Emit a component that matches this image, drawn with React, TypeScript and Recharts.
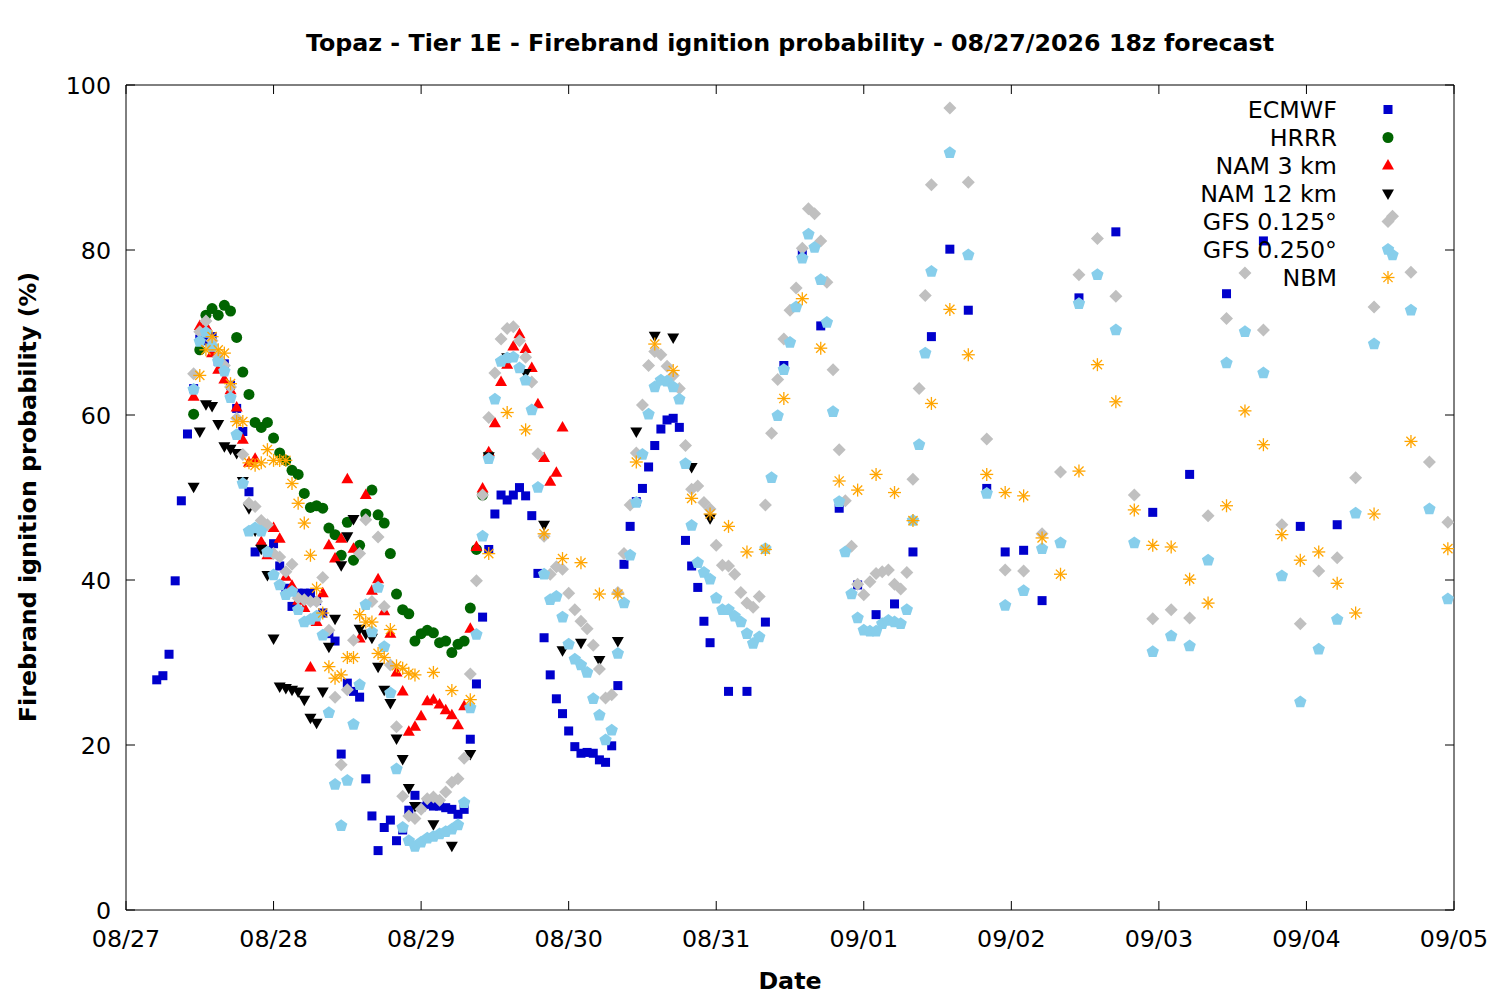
import React from "react";
import { ScatterChart, Scatter, XAxis, YAxis } from "recharts";

if (typeof document !== "undefined") document.body.style.margin = "0";

const FONT = "'DejaVu Sans', Verdana, sans-serif";
const FS = 23.75;

const titleText = "Topaz - Tier 1E - Firebrand ignition probability - 08/27/2026 18z forecast";
const xTitle = "Date";
const yTitle = "Firebrand ignition probability (%)";

// x is hours since 08/27 00z
const dayTicks = [0, 24, 48, 72, 96, 120, 144, 168, 192, 216];
const dayLabels = ["08/27", "08/28", "08/29", "08/30", "08/31", "09/01", "09/02", "09/03", "09/04", "09/05"];
const probTicks = [0, 20, 40, 60, 80, 100];

const ecmwfHours = [
  5, 6, 7, 8, 9, 10, 11, 12, 13, 14, 15, 16, 17, 18, 19, 20, 21, 22, 23, 24, 25, 26, 27, 28, 29, 30,
  31, 32, 33, 34, 35, 36, 37, 38, 39, 40, 41, 42, 43, 44, 45, 46, 47, 48, 49, 50, 51, 52, 53, 54, 55,
  56, 57, 58, 59, 60, 61, 62, 63, 64, 65, 66, 67, 68, 69, 70, 71, 72, 73, 74, 75, 76, 77, 78, 79, 80,
  81, 82, 83, 84, 85, 86, 87, 88, 89, 90, 91, 92, 93, 94, 95,
  98, 101, 104, 107, 110, 113, 116, 119, 122, 125, 128, 131, 134, 137, 140, 143, 146, 149,
  155, 161, 167, 173, 179, 185, 191, 197,
];
const ecmwfValues = [
  27.9, 28.4, 31.0, 39.9, 49.6, 57.7, 63.2, 69.2, 69.0, 69.5, 66.5, 66.2, 63.6, 60.8, 58.0, 50.7, 43.4, 44.0, 43.5, 44.4, 41.7, 39.0, 36.8, 38.4, 38.4, 38.4,
  37.5, 36.0, 33.5, 32.6, 18.9, 27.5, 26.5, 25.8, 15.9, 11.4, 7.2, 10.0, 10.9, 8.4, 9.7, 12.1, 13.9, 12.5, 12.8, 12.6, 12.6, 12.4, 12.2, 11.6, 12.2,
  20.7, 27.4, 35.5, 43.7, 48.0, 50.3, 49.7, 50.3, 51.2, 50.2, 47.8, 40.8, 33.0, 28.5, 25.6, 23.8, 21.7, 19.8, 19.0, 19.1, 19.0, 18.2, 17.9, 19.9, 27.2,
  41.9, 46.5, 49.5, 51.1, 53.7, 56.3, 58.3, 59.4, 59.6, 58.5, 44.8, 41.7, 39.1, 35.0, 32.4,
  26.5, 26.5, 34.9, 66.0, 79.6, 70.8, 48.7, 39.4, 35.8, 37.1, 43.4, 69.5, 80.1, 72.7, 51.1, 43.4, 43.6, 37.5,
  74.2, 82.2, 48.2, 52.8, 74.7, 81.1, 46.5, 46.7,
];

const hrrrHours = [
  11, 12, 13, 14, 15, 16, 17, 18, 19, 20, 21, 22, 23, 24, 25, 26, 27, 28, 29, 30, 31, 32, 33, 34, 35,
  36, 37, 38, 39, 40, 41, 42, 43, 44, 45, 46, 47, 48, 49, 50, 51, 52, 53, 54, 55, 56, 57, 58, 59,
];
const hrrrValues = [
  60.1, 67.9, 72.1, 72.9, 72.1, 73.3, 72.6, 69.4, 65.2, 62.5, 59.1, 58.5, 59.1, 57.2, 55.4, 54.5, 53.3, 52.8, 50.5, 48.8, 49.0, 48.7, 46.3, 45.5, 43.0,
  47.0, 42.4, 44.2, 48.0, 50.9, 47.9, 46.9, 43.2, 38.3, 36.4, 35.9, 32.6, 33.5, 33.9, 33.6, 32.4, 32.6, 31.2, 32.2, 32.6, 36.6, 43.7, 50.3, 55.1,
];

const nam3Hours = [
  11, 12, 13, 14, 15, 16, 17, 18, 19, 20, 21, 22, 23, 24, 25, 26, 27, 28, 29, 30, 31, 32, 33, 34, 35, 36, 37, 38, 39, 40,
  41, 42, 43, 44, 45, 46, 47, 48, 49, 50, 51, 52, 53, 54, 55, 56, 57, 58, 59, 60, 61, 62, 63, 64, 65, 66, 67, 68, 69, 70, 71,
];
const nam3Values = [
  62.2, 70.8, 70.8, 67.5, 65.5, 64.3, 63.0, 60.9, 57.0, 54.2, 54.7, 44.6, 43.0, 46.3, 45.0, 40.4, 39.3, 37.5, 36.6, 29.4, 34.9, 38.4, 44.2, 42.6, 45.0, 52.2, 43.8, 32.9, 50.3, 38.7,
  40.1, 36.2, 33.5, 28.8, 26.5, 21.6, 22.2, 23.5, 25.3, 25.5, 24.9, 24.2, 23.6, 22.4, 24.7, 34.1, 44.0, 51.1, 55.5, 59.0, 64.0, 66.1, 68.3, 69.8, 68.0, 65.7, 61.3, 54.8, 51.9, 53.0, 58.5,
];

const nam12Hours = [
  11, 12, 13, 14, 15, 16, 17, 18, 19, 20, 21, 22, 23, 24, 25, 26, 27, 28, 29, 30, 31, 32, 33, 34, 35, 36, 37, 38, 39, 40,
  41, 42, 43, 44, 45, 46, 47, 50, 53, 56, 59, 62, 65, 68, 71, 74, 77, 80, 83, 86, 89, 92, 95,
];
const nam12Values = [
  51.3, 58.0, 61.3, 61.1, 58.9, 56.2, 55.9, 55.4, 52.0, 48.7, 46.0, 43.8, 40.6, 32.9, 27.1, 26.9, 26.7, 26.5, 25.5, 23.3, 22.7, 26.5, 31.9, 35.3, 41.8, 45.3, 47.4, 34.1, 33.5, 33.0,
  29.5, 26.7, 25.1, 20.8, 18.3, 14.8, 12.6, 10.4, 7.8, 18.9, 55.0, 67.0, 65.1, 46.7, 31.5, 32.4, 30.3, 32.6, 58.0, 69.6, 69.4, 53.7, 47.5,
];

const gfsHours = [
  11, 12, 13, 14, 15, 16, 17, 18, 19, 20, 21, 22, 23, 24, 25, 26, 27, 28, 29, 30, 31, 32, 33, 34, 35, 36, 37, 38, 39, 40,
  41, 42, 43, 44, 45, 46, 47, 48, 49, 50, 51, 52, 53, 54, 55, 56, 57, 58, 59, 60, 61, 62, 63, 64, 65, 66, 67, 68, 69, 70,
  71, 72, 73, 74, 75, 76, 77, 78, 79, 80, 81, 82, 83, 84, 85, 86, 87, 88, 89, 90, 91, 92, 93, 94, 95, 96, 97, 98, 99, 100,
  101, 102, 103, 104, 105, 106, 107, 108, 109, 110, 111, 112, 113, 114, 115, 116, 117, 118, 119, 120,
  121, 122, 123, 124, 125, 126, 127, 128, 129, 130, 131,
  134, 137, 140, 143, 146, 149, 152, 155, 158, 161, 164, 167, 170, 173, 176, 179, 182, 185, 188, 191,
  194, 197, 200, 203, 206, 209, 212, 215,
];
const gfs0125Values = [
  65.0, 70.1, 71.4, 69.0, 67.0, 66.0, 63.4, 59.6, 55.2, 49.3, 48.9, 47.2, 46.7, 43.2, 42.8, 41.0, 41.9, 37.8, 37.6, 37.4,
  37.4, 40.3, 33.9, 25.8, 17.6, 26.7, 32.7, 43.2, 47.3, 37.4, 45.2, 36.8, 29.7, 22.2, 13.8, 11.4, 11.1, 12.2, 13.5, 13.7,
  13.3, 14.3, 15.5, 15.9, 18.4, 28.6, 39.9, 50.3, 59.7, 65.1, 69.2, 70.5, 70.7, 69.0, 67.0, 64.0, 55.3, 45.3, 40.7, 41.6,
  41.3, 38.4, 36.4, 35.0, 34.1, 32.1, 29.2, 25.7, 26.1, 38.5, 43.2, 49.1, 55.4, 61.2, 66.0, 67.7, 67.3, 65.9, 64.8, 63.2,
  56.3, 51.0, 51.4, 49.4, 48.6, 44.2, 41.8, 41.7, 40.7, 38.5, 37.2, 36.7, 38.0, 49.1, 57.8, 64.3, 69.2, 72.7, 75.4, 80.2,
  85.0, 84.4, 81.1, 76.1, 65.5, 55.8, 49.6, 44.1, 39.5, 38.2, 39.8, 40.8, 41.0, 41.2, 39.5, 38.9, 40.9, 52.2, 63.2, 74.5,
  87.9,
  97.2, 88.2, 57.1, 41.2, 41.1, 45.6, 53.1, 77.0, 81.4, 74.4, 50.3, 35.3, 36.4, 35.4, 47.8, 71.7, 77.2, 70.3, 46.7, 34.7,
  41.1, 42.7, 52.4, 73.1, 84.1, 77.3, 54.3, 47.0,
];
const gfs0250Values = [
  63.1, 68.9, 70.0, 68.3, 66.5, 65.3, 62.1, 57.6, 51.7, 45.9, 46.3, 45.9, 43.4, 40.6, 39.4, 38.2, 38.6, 36.4, 34.9, 35.2,
  35.6, 33.3, 23.9, 15.2, 10.2, 15.7, 22.5, 27.3, 37.0, 33.7, 39.1, 31.9, 26.3, 17.1, 10.0, 8.4, 7.7, 8.2, 8.7, 8.9,
  9.2, 9.5, 9.8, 10.3, 13.0, 24.5, 33.4, 45.3, 54.7, 61.9, 66.5, 66.9, 67.0, 65.7, 64.2, 60.6, 51.2, 40.7, 37.6, 38.0,
  35.5, 32.2, 30.4, 29.7, 28.8, 25.6, 23.6, 20.6, 21.8, 31.1, 37.2, 43.0, 49.4, 55.2, 60.1, 63.4, 64.2, 64.1, 63.4, 61.9,
  54.1, 46.6, 42.1, 40.9, 40.1, 37.8, 36.4, 36.4, 35.6, 34.9, 33.5, 32.3, 33.1, 43.8, 52.4, 59.9, 65.5, 68.8, 73.1, 79.0,
  81.9, 80.3, 76.4, 71.2, 60.4, 49.5, 43.4, 38.3, 35.4, 33.9, 33.8, 33.8, 34.7, 35.1, 34.9, 34.7, 36.4, 47.2, 56.4, 67.5,
  77.4,
  91.8, 79.4, 50.5, 36.9, 38.7, 43.8, 44.5, 73.5, 77.0, 70.3, 44.5, 31.3, 33.2, 32.0, 42.4, 66.3, 70.1, 65.1, 40.5, 25.2,
  31.6, 35.2, 48.1, 68.6, 79.4, 72.7, 48.6, 37.7,
];

const nbmHours = [
  12, 13, 14, 15, 16, 17, 18, 19, 20, 21, 22, 23, 24, 25, 26, 27, 28, 29, 30, 31, 32, 33, 34, 35, 36, 37, 38, 39, 40, 41,
  42, 43, 44, 45, 46, 47,
  50, 53, 56, 59, 62, 65, 68, 71, 74, 77, 80, 83, 86, 89, 92, 95, 98, 101, 104, 107, 110, 113, 116, 119,
  122, 125, 128, 131, 134, 137, 140, 143, 146, 149, 152, 155, 158, 161, 164, 167, 170, 173, 176, 179,
  182, 185, 188, 191, 194, 197, 200, 203, 209, 215,
];
const nbmValues = [
  64.8, 67.9, 69.5, 67.9, 67.5, 63.8, 59.2, 59.2, 54.2, 53.9, 54.2, 55.8, 54.5, 54.5, 54.5, 51.7, 49.3, 46.9, 43.0, 39.0,
  36.0, 29.5, 28.1, 28.5, 30.6, 30.6, 35.8, 34.9, 34.9, 31.1, 30.6, 34.0, 29.6, 29.3, 28.7, 28.5,
  28.8, 26.6, 25.5, 43.2, 60.3, 58.2, 45.6, 42.6, 42.1, 38.3, 38.3, 54.3, 68.6, 65.4, 49.9, 48.0, 46.5, 43.4, 43.7, 62.0, 74.1, 68.1, 52.0, 50.9,
  52.8, 50.6, 47.2, 61.4, 72.8, 67.3, 52.8, 50.6, 50.2, 45.1, 40.7, 53.2, 66.1, 61.6, 48.5, 44.2, 44.0, 40.1, 37.2, 49.0,
  60.5, 56.4, 45.5, 42.4, 43.4, 39.6, 36.0, 48.0, 56.8, 43.8,
];

const toPoints = (hours: number[], values: number[]) => hours.map((h, i) => ({ h, v: values[i] }));

type P = { cx?: number; cy?: number };

const Square = ({ cx = 0, cy = 0 }: P) => <rect x={cx - 4.5} y={cy - 4.5} width={9} height={9} fill="#0000cc" />;
const Dot = ({ cx = 0, cy = 0 }: P) => <circle cx={cx} cy={cy} r={5.5} fill="#006400" />;
const TriUp = ({ cx = 0, cy = 0 }: P) => (
  <polygon points={`${cx},${cy - 6.5} ${cx + 6},${cy + 4} ${cx - 6},${cy + 4}`} fill="#ff0000" />
);
const TriDown = ({ cx = 0, cy = 0 }: P) => (
  <polygon points={`${cx},${cy + 6.5} ${cx + 6},${cy - 4} ${cx - 6},${cy - 4}`} fill="#000000" />
);
const Diamond = ({ cx = 0, cy = 0 }: P) => (
  <polygon points={`${cx},${cy - 6.5} ${cx + 6.5},${cy} ${cx},${cy + 6.5} ${cx - 6.5},${cy}`} fill="#c0c0c0" />
);
const Pentagon = ({ cx = 0, cy = 0 }: P) => {
  const pts = [0, 1, 2, 3, 4]
    .map((k) => {
      const a = ((-90 + 72 * k) * Math.PI) / 180;
      return `${cx + 6.5 * Math.cos(a)},${cy + 6.5 * Math.sin(a)}`;
    })
    .join(" ");
  return <polygon points={pts} fill="#87ceeb" />;
};
const Star = ({ cx = 0, cy = 0 }: P) => {
  const r = 6.5;
  const d = r * 0.707;
  return (
    <g stroke="#ffa500" strokeWidth={1.3}>
      <line x1={cx - r} y1={cy} x2={cx + r} y2={cy} />
      <line x1={cx} y1={cy - r} x2={cx} y2={cy + r} />
      <line x1={cx - d} y1={cy - d} x2={cx + d} y2={cy + d} />
      <line x1={cx - d} y1={cy + d} x2={cx + d} y2={cy - d} />
    </g>
  );
};

const series = [
  { name: "ECMWF", data: toPoints(ecmwfHours, ecmwfValues), Mark: Square },
  { name: "HRRR", data: toPoints(hrrrHours, hrrrValues), Mark: Dot },
  { name: "NAM 3 km", data: toPoints(nam3Hours, nam3Values), Mark: TriUp },
  { name: "NAM 12 km", data: toPoints(nam12Hours, nam12Values), Mark: TriDown },
  { name: "GFS 0.125°", data: toPoints(gfsHours, gfs0125Values), Mark: Diamond },
  { name: "GFS 0.250°", data: toPoints(gfsHours, gfs0250Values), Mark: Pentagon },
  { name: "NBM", data: toPoints(nbmHours, nbmValues), Mark: Star },
];

const BottomTick = ({ x, y, payload }: any) => (
  <g>
    <line x1={x} y1={y} x2={x} y2={y - 9} stroke="#000" />
    <text x={x} y={y + 36.5} textAnchor="middle" fontFamily={FONT} fontSize={FS} fill="#000">
      {dayLabels[dayTicks.indexOf(payload.value)]}
    </text>
  </g>
);
const TopTick = ({ x, y }: any) => <line x1={x} y1={y} x2={x} y2={y + 9} stroke="#000" />;
const LeftTick = ({ x, y, payload }: any) => (
  <g>
    <line x1={x} y1={y} x2={x + 9} y2={y} stroke="#000" />
    <text x={x - 15} y={y + 8.5} textAnchor="end" fontFamily={FONT} fontSize={FS} fill="#000">
      {payload.value}
    </text>
  </g>
);
const RightTick = ({ x, y }: any) => <line x1={x} y1={y} x2={x - 9} y2={y} stroke="#000" />;

export default function App() {
  return (
    <div style={{ position: "relative", width: 1500, height: 1000, background: "#fff" }}>
      <ScatterChart width={1500} height={1000} margin={{ top: 84, right: 45, bottom: 0, left: 0 }}>
        <XAxis
          xAxisId="b"
          type="number"
          dataKey="h"
          domain={[0, 216]}
          ticks={dayTicks}
          allowDataOverflow
          height={90}
          tickSize={0}
          tickMargin={0}
          tickLine={false}
          axisLine={{ stroke: "#000" }}
          tick={<BottomTick />}
        />
        <XAxis
          xAxisId="t"
          orientation="top"
          type="number"
          dataKey="h"
          domain={[0, 216]}
          ticks={dayTicks}
          allowDataOverflow
          height={1}
          tickSize={0}
          tickMargin={0}
          tickLine={false}
          axisLine={{ stroke: "#000" }}
          tick={<TopTick />}
        />
        <YAxis
          yAxisId="l"
          type="number"
          dataKey="v"
          domain={[0, 100]}
          ticks={probTicks}
          allowDataOverflow
          width={126}
          tickSize={0}
          tickMargin={0}
          tickLine={false}
          axisLine={{ stroke: "#000" }}
          tick={<LeftTick />}
        />
        <YAxis
          yAxisId="r"
          orientation="right"
          type="number"
          dataKey="v"
          domain={[0, 100]}
          ticks={probTicks}
          allowDataOverflow
          width={1}
          tickSize={0}
          tickMargin={0}
          tickLine={false}
          axisLine={{ stroke: "#000" }}
          tick={<RightTick />}
        />
        {series.map(({ name, data, Mark }) => (
          <Scatter
            key={name}
            name={name}
            data={data}
            xAxisId="b"
            yAxisId="l"
            isAnimationActive={false}
            shape={(p: any) => <Mark cx={p.cx} cy={p.cy} />}
          />
        ))}
      </ScatterChart>
      <svg
        width={1500}
        height={1000}
        style={{ position: "absolute", left: 0, top: 0, pointerEvents: "none" }}
        fontFamily={FONT}
        fontSize={FS}
      >
        <text x={790} y={51} textAnchor="middle" fontWeight="bold">
          {titleText}
        </text>
        <text x={790} y={989} textAnchor="middle" fontWeight="bold">
          {xTitle}
        </text>
        <text transform="translate(35.5,497) rotate(-90)" textAnchor="middle" fontWeight="bold">
          {yTitle}
        </text>
        {series.map(({ name, Mark }, i) => {
          const yy = 109.5 + i * 28;
          return (
            <g key={name}>
              <text x={1337} y={yy + 8.5} textAnchor="end">
                {name}
              </text>
              <Mark cx={1388} cy={yy} />
            </g>
          );
        })}
      </svg>
    </div>
  );
}
